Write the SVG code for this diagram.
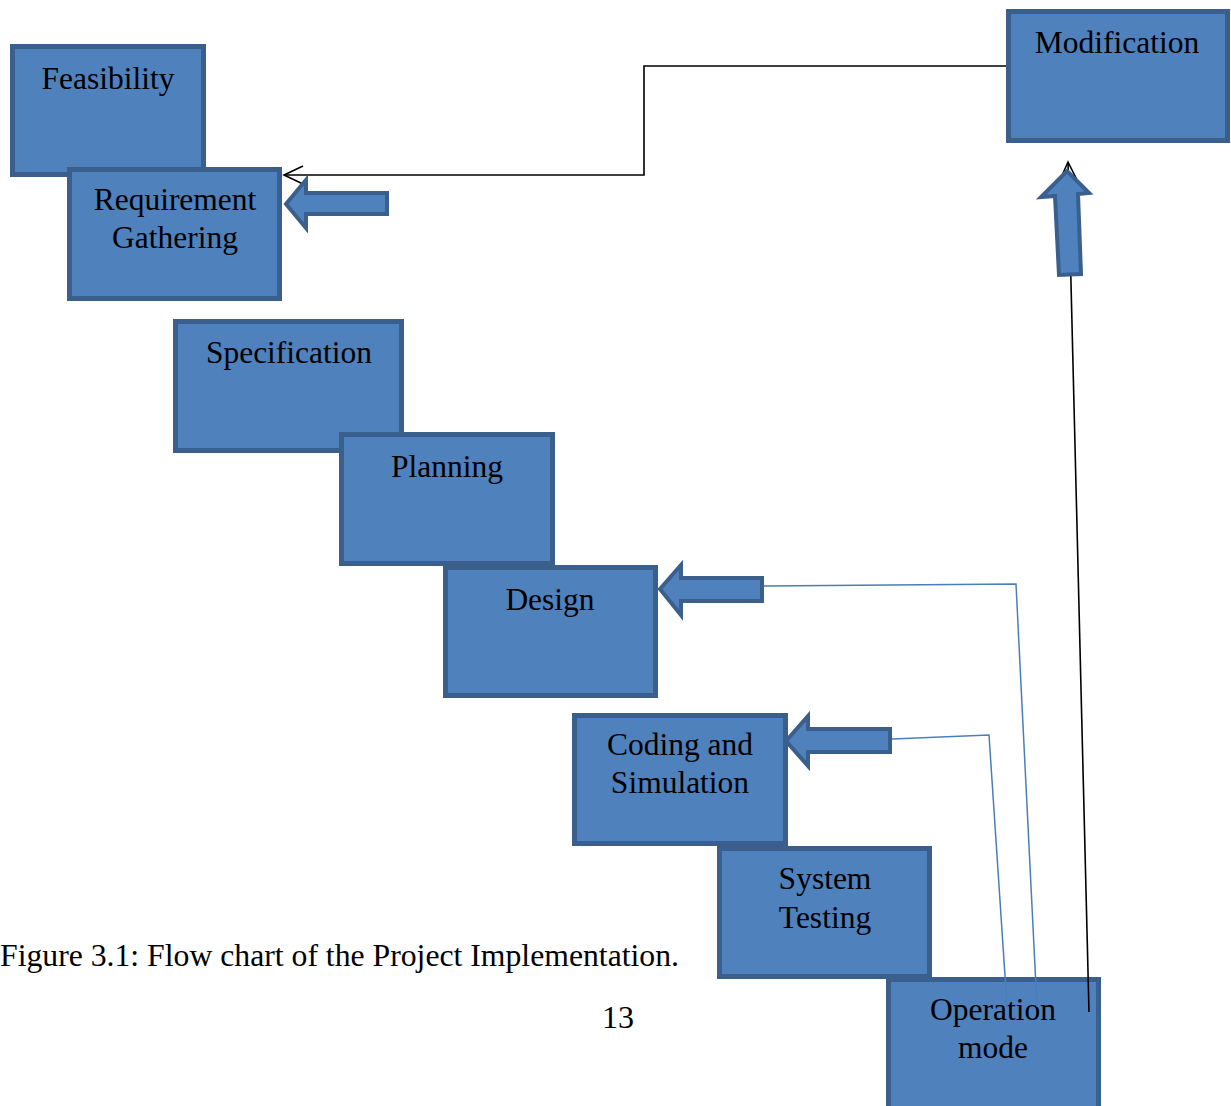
<svg xmlns="http://www.w3.org/2000/svg" width="1231" height="1106" viewBox="0 0 1231 1106">
<style>
.box{fill:#4f81bd;stroke:#3a5f8d;stroke-width:5}
.barrow{fill:#4f81bd;stroke:#3a5f8d;stroke-width:4;stroke-linejoin:miter}
.t{font-family:"Liberation Serif","Times New Roman",serif;font-size:31.5px;fill:#000;text-anchor:middle}
.cap{font-family:"Liberation Serif","Times New Roman",serif;font-size:32px;fill:#000}
.blk{fill:none;stroke:#000;stroke-width:1.6}
.blu{fill:none;stroke:#4a7ebb;stroke-width:1.5}
</style>
<defs>
<marker id="open" viewBox="-21 -11 23 22" refX="0" refY="0" markerWidth="23" markerHeight="22" markerUnits="userSpaceOnUse" orient="auto">
<path d="M-19,-9 L0,0 L-19,9" fill="none" stroke="#000" stroke-width="1.6"/>
</marker>
</defs>
<rect width="1231" height="1106" fill="#fff"/>

<g id="feasibility"><rect class="box" x="12.5" y="46.5" width="191" height="128"/><text class="t" x="108" y="89">Feasibility</text></g>
<g id="requirement"><rect class="box" x="69.5" y="169.5" width="210" height="129"/><text class="t" x="175" y="210">Requirement</text><text class="t" x="175" y="248">Gathering</text></g>
<g id="specification"><rect class="box" x="175.5" y="321.5" width="226" height="129"/><text class="t" x="289" y="363">Specification</text></g>
<g id="planning"><rect class="box" x="341.5" y="434.5" width="211" height="129"/><text class="t" x="447" y="477">Planning</text></g>
<g id="design"><rect class="box" x="445.5" y="567.5" width="210" height="128"/><text class="t" x="550" y="610">Design</text></g>
<g id="coding"><rect class="box" x="574.5" y="715.5" width="211" height="128"/><text class="t" x="680" y="755">Coding and</text><text class="t" x="680" y="793">Simulation</text></g>
<g id="testing"><rect class="box" x="719.5" y="848.5" width="210" height="128"/><text class="t" x="825" y="889">System</text><text class="t" x="825" y="928">Testing</text></g>
<g id="operation"><rect class="box" x="888.5" y="979.5" width="210" height="140"/><text class="t" x="993" y="1020">Operation</text><text class="t" x="993" y="1058">mode</text></g>
<g id="modification"><rect class="box" x="1008.5" y="11.5" width="219" height="129"/><text class="t" x="1117" y="53">Modification</text></g>

<g id="connectors">
<polyline class="blk" points="1006,66 644,66 644,175 284,175" marker-end="url(#open)"/>
<line class="blk" x1="1089" y1="1012" x2="1068" y2="162" marker-end="url(#open)"/>
<polyline class="blu" points="764,586 1016,584 1037,1007"/>
<polyline class="blu" points="892,739 989,735 1007,1006"/>
<polygon class="barrow" points="286,204 306,180 306,193 387,193 387,214 306,214 306,228"/>
<polygon class="barrow" points="660,589 681,565 681,578 762,578 762,601 681,601 681,615"/>
<polygon class="barrow" points="786,741 808,716 808,729 890,729 890,752 808,752 808,766"/>
<polygon class="barrow" points="1067,171 1089,193 1078,194 1081,274 1059,275 1055,196 1041,197"/>
</g>

<text class="cap" x="0" y="966" textLength="679" lengthAdjust="spacingAndGlyphs">Figure 3.1: Flow chart of the Project Implementation.</text>
<text class="cap" x="618" y="1028" text-anchor="middle">13</text>
</svg>
